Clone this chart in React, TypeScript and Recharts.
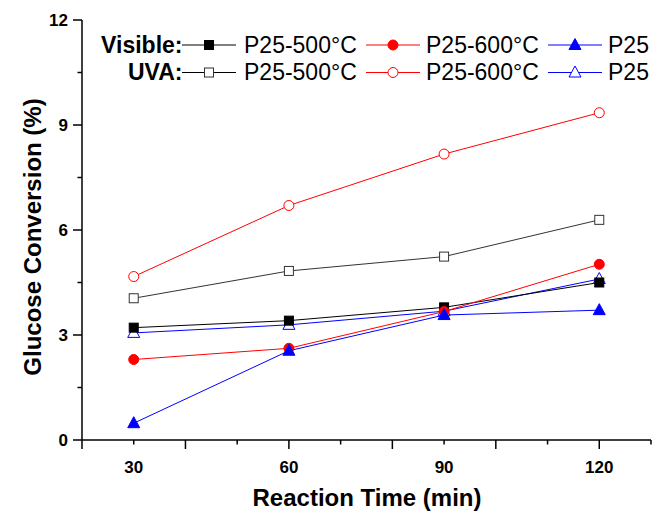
import React from 'react';
import { LineChart, Line, XAxis, YAxis } from 'recharts';

const times = [30, 60, 90, 120];
const visP25_500 = [3.21, 3.41, 3.79, 4.5];
const visP25_600 = [2.3, 2.62, 3.67, 5.02];
const visP25 = [0.48, 2.55, 3.57, 3.71];
const uvaP25_500 = [4.05, 4.83, 5.24, 6.29];
const uvaP25_600 = [4.67, 6.7, 8.17, 9.35];
const uvaP25 = [3.06, 3.29, 3.68, 4.6];

const xTicks = [20, 30, 40, 50, 60, 70, 80, 90, 100, 110, 120, 130];
const xLabels = [30, 60, 90, 120];
const yTicks = [0, 1.5, 3, 4.5, 6, 7.5, 9, 10.5, 12];
const yLabels = [0, 3, 6, 9, 12];

const data = times.map((t, i) => ({
  time: t,
  visP25_500: visP25_500[i],
  visP25_600: visP25_600[i],
  visP25: visP25[i],
  uvaP25_500: uvaP25_500[i],
  uvaP25_600: uvaP25_600[i],
  uvaP25: uvaP25[i],
}));

const FONT = "Arial, 'Liberation Sans', Helvetica, sans-serif";
const BLACK = '#000000';
const RED = '#ff0000';
const BLUE = '#0000ff';

type Shape = 'square' | 'circle' | 'triangle';

// marker drawn at (cx, cy); used by both the lines and the legend
const Marker = ({ cx, cy, shape, filled, color }: { cx: number; cy: number; shape: Shape; filled: boolean; color: string }) => {
  const fill = filled ? color : '#ffffff';
  const stroke = filled ? color : shape === 'square' ? '#333333' : color;
  if (shape === 'square') {
    return <rect x={cx - 4.5} y={cy - 4.5} width={9} height={9} fill={fill} stroke={stroke} strokeWidth={1} />;
  }
  if (shape === 'circle') {
    return <circle cx={cx} cy={cy} r={5} fill={fill} stroke={stroke} strokeWidth={1} />;
  }
  return (
    <polygon
      points={`${cx},${cy - 6.5} ${cx - 6},${cy + 4.5} ${cx + 6},${cy + 4.5}`}
      fill={fill}
      stroke={stroke}
      strokeWidth={1}
    />
  );
};

const makeDot = (shape: Shape, filled: boolean, color: string) => (props: any) => {
  const { cx, cy, index } = props;
  return (
    <g key={`${shape}-${filled}-${index}`}>
      <Marker cx={cx} cy={cy} shape={shape} filled={filled} color={color} />
    </g>
  );
};

const XTick = (props: any) => {
  const { x, y, payload } = props;
  const v = payload.value;
  const major = v % 20 === 0;
  return (
    <g>
      <line x1={x} x2={x} y1={y} y2={y + (major ? 9 : 4.5)} stroke={BLACK} strokeWidth={1.5} />
      {xLabels.includes(v) && (
        <text x={x} y={y + 33} textAnchor="middle" fontFamily={FONT} fontWeight="bold" fontSize={17} fill={BLACK}>
          {v}
        </text>
      )}
    </g>
  );
};

const YTick = (props: any) => {
  const { x, y, payload } = props;
  const v = payload.value;
  const major = yLabels.includes(v);
  return (
    <g>
      <line x1={x - (major ? 9 : 4.5)} x2={x} y1={y} y2={y} stroke={BLACK} strokeWidth={1.5} />
      {major && (
        <text x={x - 14} y={y + 6} textAnchor="end" fontFamily={FONT} fontWeight="bold" fontSize={17} fill={BLACK}>
          {v}
        </text>
      )}
    </g>
  );
};

const XTitle = () => (
  <text x={367} y={506} textAnchor="middle" fontFamily={FONT} fontWeight="bold" fontSize={24} fill={BLACK}>
    Reaction Time (min)
  </text>
);

const YTitle = () => (
  <text
    transform="translate(32,237) rotate(-90)"
    textAnchor="middle"
    dominantBaseline="central"
    fontFamily={FONT}
    fontWeight="bold"
    fontSize={24}
    fill={BLACK}
  >
    Glucose Conversion (%)
  </text>
);

const legendRows = [
  { label: 'Visible:', filled: true, y: 45 },
  { label: 'UVA:', filled: false, y: 72.5 },
];
const legendCols: { name: string; shape: Shape; color: string; x1: number; text: number }[] = [
  { name: 'P25-500°C', shape: 'square', color: BLACK, x1: 182, text: 244 },
  { name: 'P25-600°C', shape: 'circle', color: RED, x1: 366, text: 426 },
  { name: 'P25', shape: 'triangle', color: BLUE, x1: 548, text: 608 },
];

const LegendBox = () => (
  <svg width={654} height={100} style={{ position: 'absolute', left: 0, top: 0, pointerEvents: 'none' }}>
    {legendRows.map((r) => (
      <g key={r.label}>
        <text x={182.5} y={r.y + 7.5} textAnchor="end" fontFamily={FONT} fontWeight="bold" fontSize={23} fill={BLACK}>
          {r.label}
        </text>
        {legendCols.map((c) => (
          <g key={c.name}>
            <line x1={c.x1} x2={c.x1 + 54} y1={r.y} y2={r.y} stroke={c.color} strokeWidth={1} />
            <Marker cx={c.x1 + 27} cy={r.y} shape={c.shape} filled={r.filled} color={c.color} />
            <text x={c.text} y={r.y + 7.5} fontFamily={FONT} fontSize={23} fill={BLACK}>
              {c.name}
            </text>
          </g>
        ))}
      </g>
    ))}
  </svg>
);

const App: React.FC = () => {
  return (
    <div style={{ position: 'absolute', left: 0, top: 0, width: 654, height: 513, background: '#fff' }}>
      <LineChart width={654} height={513} data={data} margin={{ top: 20, right: 3, bottom: 0, left: 0 }}>
        <XAxis
          dataKey="time"
          type="number"
          domain={[20, 130]}
          ticks={xTicks}
          interval={0}
          height={73}
          tickLine={false}
          tickSize={0}
          tickMargin={0}
          tick={<XTick />}
          axisLine={{ stroke: BLACK, strokeWidth: 1.5 }}
          label={<XTitle />}
        />
        <XAxis xAxisId="top" orientation="top" type="number" domain={[20, 130]} height={0} tick={false} tickLine={false} axisLine={{ stroke: BLACK, strokeWidth: 1.5 }} />
        <YAxis
          type="number"
          domain={[0, 12]}
          ticks={yTicks}
          interval={0}
          width={82}
          tickLine={false}
          tickSize={0}
          tickMargin={0}
          tick={<YTick />}
          axisLine={{ stroke: BLACK, strokeWidth: 1.5 }}
          label={<YTitle />}
        />
        <YAxis yAxisId="right" orientation="right" domain={[0, 12]} width={0} tick={false} tickLine={false} axisLine={{ stroke: BLACK, strokeWidth: 1.5 }} />

        <Line dataKey="uvaP25_500" stroke="#333333" strokeWidth={1} dot={makeDot('square', false, BLACK)} isAnimationActive={false} />
        <Line dataKey="uvaP25_600" stroke={RED} strokeWidth={1} dot={makeDot('circle', false, RED)} isAnimationActive={false} />
        <Line dataKey="uvaP25" stroke={BLUE} strokeWidth={1} dot={makeDot('triangle', false, BLUE)} isAnimationActive={false} />
        <Line dataKey="visP25_500" stroke={BLACK} strokeWidth={1} dot={makeDot('square', true, BLACK)} isAnimationActive={false} />
        <Line dataKey="visP25_600" stroke={RED} strokeWidth={1} dot={makeDot('circle', true, RED)} isAnimationActive={false} />
        <Line dataKey="visP25" stroke={BLUE} strokeWidth={1} dot={makeDot('triangle', true, BLUE)} isAnimationActive={false} />
      </LineChart>
      <LegendBox />
    </div>
  );
};

export default App;
